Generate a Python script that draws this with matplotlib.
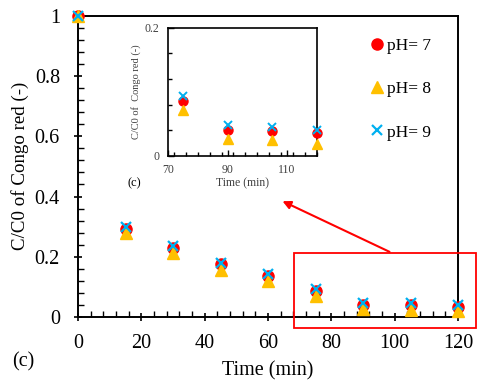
import numpy as np
import matplotlib.pyplot as plt
from matplotlib.ticker import MultipleLocator
from matplotlib.patches import Rectangle, FancyArrowPatch

plt.rcParams['font.family'] = ['Liberation Serif', 'DejaVu Serif']

# data
time = [0, 15, 30, 45, 60, 75, 90, 105, 120]
ph7 = [1.0, 0.292, 0.230, 0.175, 0.137, 0.086, 0.041, 0.039, 0.035]
ph8 = [1.0, 0.278, 0.211, 0.156, 0.120, 0.071, 0.027, 0.024, 0.019]
ph9 = [1.0, 0.300, 0.236, 0.181, 0.143, 0.093, 0.048, 0.045, 0.040]
labels = ['pH= 7', 'pH= 8', 'pH= 9']
yticks = [0, 0.2, 0.4, 0.6, 0.8, 1.0]
ytick_labels = ['0', '0.2', '0.4', '0.6', '0.8', '1']

red = '#FF0000'
yel = '#FFC000'
blu = '#00B0F0'

fig = plt.figure(figsize=(4.8, 3.82), dpi=100)
ax = fig.add_axes([0.1625, 0.170, 0.7917, 0.789])

ax.plot(time, ph7, 'o', color=red, ms=8, clip_on=False, zorder=3, label=labels[0])
ax.plot(time, ph8, '^', color=yel, ms=8, clip_on=False, zorder=4, label=labels[1])
ax.plot(time, ph9, 'x', color=blu, ms=7, mew=1.6, clip_on=False, zorder=5, label=labels[2])

ax.set_xlim(0, 120)
ax.set_ylim(0, 1)
ax.xaxis.set_major_locator(MultipleLocator(20))
ax.xaxis.set_minor_locator(MultipleLocator(4))
ax.set_yticks(yticks)
ax.set_yticklabels(ytick_labels)
ax.yaxis.set_minor_locator(MultipleLocator(0.04))
ax.tick_params(which='major', direction='inout', length=6, width=1.2, labelsize=14.5)
ax.tick_params(axis='y', which='major', pad=10)
ax.tick_params(axis='x', which='major', pad=9)
ax.tick_params(which='minor', direction='in', length=4, width=1.0)
for s in ax.spines.values():
    s.set_linewidth(1.4)
ax.set_xlabel('Time (min)', fontsize=14.5, labelpad=6)
ax.set_ylabel('C/C0 of Congo red (-)', fontsize=13.6, labelpad=4)

ax.legend(loc='upper left', bbox_to_anchor=(0.74, 0.948), frameon=False, fontsize=12.5,
          handletextpad=0.0, labelspacing=1.55, handlelength=1.2, borderaxespad=0)

fig.text(0.025, 0.04, '(c)', fontsize=14.5)

# inset
ins = fig.add_axes([0.35, 0.592, 0.31, 0.335])
ins.plot(time[5:], ph7[5:], 'o', color=red, ms=6.5, clip_on=False, zorder=3)
ins.plot(time[5:], ph8[5:], '^', color=yel, ms=6.5, clip_on=False, zorder=4)
ins.plot(time[5:], ph9[5:], 'x', color=blu, ms=6, mew=1.4, clip_on=False, zorder=5)
ins.set_xlim(70, 120)
ins.set_ylim(0, 0.2)
ins.set_xticks([70, 90, 110])
ins.set_yticks([0, 0.2])
ins.set_yticklabels(['0', '0.2'])
ins.xaxis.set_minor_locator(MultipleLocator(4))
ins.yaxis.set_minor_locator(MultipleLocator(0.04))
ins.tick_params(which='major', direction='in', length=4, width=1.0, labelsize=8.5,
                labelcolor='#404040', pad=6)
ins.tick_params(which='minor', direction='in', length=3, width=1.0)
for s in ins.spines.values():
    s.set_linewidth(1.2)
ins.set_xlabel('Time (min)', fontsize=8.5, color='#404040', labelpad=1)
ins.set_ylabel('C/C0 of  Congo red (-)', fontsize=7.5, color='#404040', labelpad=3)
fig.text(0.265, 0.512, '(c)', fontsize=9)

# red zoom box and arrow
fig.patches.append(Rectangle((294 / 480, 1 - 328 / 382), 182 / 480, 75 / 382,
                             transform=fig.transFigure, fill=False, ec=red, lw=1.3))
fig.patches.append(FancyArrowPatch((392 / 480, 1 - 253 / 382), (280 / 480, 1 - 200 / 382),
                                   transform=fig.transFigure, arrowstyle='-|>',
                                   mutation_scale=12, color=red, lw=1.5))

fig.savefig('out.png', dpi=100)
